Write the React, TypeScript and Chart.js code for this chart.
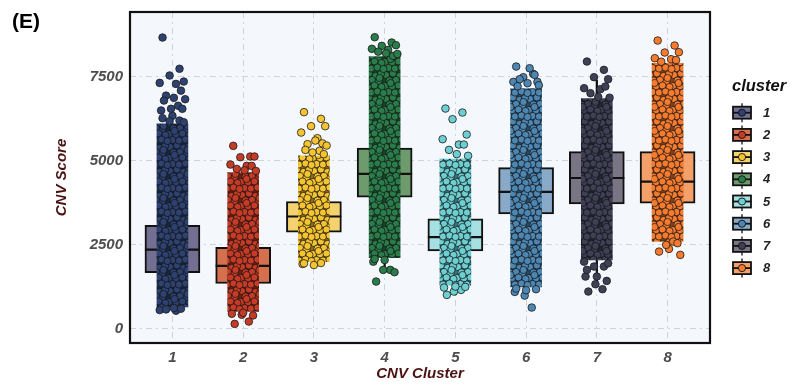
import React, { useEffect, useRef } from 'react';
import { Chart, registerables } from 'chart.js';

Chart.register(...registerables);

// ---------------- data ----------------
const CLUSTERS = ['1', '2', '3', '4', '5', '6', '7', '8'];
const Y_TICKS = [0, 2500, 5000, 7500];

const Q1 = [1670, 1350, 2880, 3920, 2320, 3420, 3720, 3740];
const MEDIAN = [2360, 1875, 3345, 4615, 2730, 4080, 4490, 4380];
const Q3 = [3085, 2430, 3790, 5380, 3275, 4800, 5275, 5275];
const WHISK_LO = [560, 420, 1950, 1750, 1010, 1250, 1400, 2400];
const WHISK_HI = [5200, 4050, 5150, 7570, 4700, 6900, 7400, 7600];

// dense part of each jittered cloud
const CORE_LO = [650, 520, 2000, 2120, 1300, 1250, 2050, 2600];
const CORE_HI = [6100, 4650, 5150, 8100, 5050, 7150, 6850, 7900];

// sparse points at the ends of each cloud
const POINTS_1 = [8670, 7740, 7540, 7360, 7320, 7290, 7090, 6940, 6875, 6835, 6795, 6640, 6550, 6550, 6500, 6340, 6270, 6200, 6180, 6150, 560, 540, 600, 580, 620];
const POINTS_2 = [5446, 5129, 5109, 5129, 4890, 4850, 4850, 4760, 4720, 4700, 149, 218, 420, 400, 450, 480];
const POINTS_3 = [6449, 6250, 6032, 6032, 5843, 5674, 5520, 5497, 5604, 5456, 5327, 5300, 5250, 5200, 1930, 1900, 1950, 1960];
const POINTS_4 = [8680, 8522, 8422, 8442, 8333, 8303, 8125, 8250, 8200, 8180, 1408, 1756, 1756, 1687, 2000, 2050, 2080];
const POINTS_5 = [6557, 6438, 6240, 5784, 5645, 5486, 5486, 5327, 5200, 5150, 1012, 1160, 1111, 1250, 1230, 1260];
const POINTS_6 = [7807, 7589, 7490, 7351, 7351, 7757, 7559, 7430, 7311, 7250, 7220, 635, 991, 1181, 1100, 1150, 1200];
const POINTS_7 = [7956, 7708, 7490, 7430, 7163, 7133, 7212, 7014, 6900, 6880, 1111, 1181, 1330, 1428, 1557, 1557, 1756, 1855, 1855, 1950, 2000];
const POINTS_8 = [8581, 8432, 8224, 8234, 8055, 8026, 8000, 7950, 2381, 2202, 2300, 2599, 2500, 2550];
const POINTS = [POINTS_1, POINTS_2, POINTS_3, POINTS_4, POINTS_5, POINTS_6, POINTS_7, POINTS_8];

// ---------------- style ----------------
const POINT_COLORS = ['#2d4270', '#c63b26', '#f6c431', '#2a7c4a', '#6dcfd2', '#4d86b2', '#3f3f56', '#f67b2f'];
const BOX_COLORS = ['#736f93', '#d4704e', '#f4d36f', '#6d9b6d', '#a6e0e2', '#88a9c7', '#7a7585', '#f5a068'];
const JITTER = [-0.14, 0.1, -0.04, 0.16, -0.18, 0.05, 0.12, -0.09, 0.02, 0.18, -0.12, 0.08, -0.02, 0.14, -0.16, 0.0];
const FONT = 'Liberation Sans, Arial, sans-serif';
const TITLE_COLOR = '#4b1212';
const TICK_COLOR = '#4d4d4d';
const TILE = 24;
const TILE_SPOTS: [number, number][] = [
  [2, 3], [9, 1.5], [15.5, 4], [21, 2], [5.5, 8.5], [12, 8], [18.5, 9.5],
  [1, 14], [8, 14.5], [14.5, 13.5], [21.5, 15], [4.5, 20], [11, 20.5], [17.5, 19.5],
  [23.5, 21], [6.5, 11], [19.5, 6],
];

function darken(hex: string, f: number): string {
  const n = parseInt(hex.slice(1), 16);
  const r = Math.round(((n >> 16) & 255) * f);
  const g = Math.round(((n >> 8) & 255) * f);
  const b = Math.round((n & 255) * f);
  return `rgb(${r},${g},${b})`;
}

function makePattern(ctx: CanvasRenderingContext2D, color: string): CanvasPattern | string {
  const c = document.createElement('canvas');
  c.width = TILE;
  c.height = TILE;
  const g = c.getContext('2d');
  if (!g) return color;
  g.fillStyle = darken(color, 0.55);
  g.fillRect(0, 0, TILE, TILE);
  g.lineWidth = 0.8;
  g.strokeStyle = 'rgba(20,20,20,0.9)';
  for (const [sx, sy] of TILE_SPOTS) {
    for (const dx of [-TILE, 0, TILE]) {
      for (const dy of [-TILE, 0, TILE]) {
        g.beginPath();
        g.arc(sx + dx, sy + dy, 3.6, 0, Math.PI * 2);
        g.fillStyle = color;
        g.fill();
        g.stroke();
      }
    }
  }
  return ctx.createPattern(c, 'repeat') || color;
}

const framePlugin = {
  id: 'frame',
  beforeDraw(chart: any) {
    const { ctx, chartArea: a } = chart;
    ctx.save();
    ctx.fillStyle = '#f4f8fd';
    ctx.fillRect(a.left, a.top, a.right - a.left, a.bottom - a.top);
    ctx.restore();
  },
  afterDatasetsDraw(chart: any) {
    const { ctx, chartArea: a } = chart;
    ctx.save();
    ctx.strokeStyle = '#111';
    ctx.lineWidth = 2.2;
    ctx.strokeRect(a.left, a.top, a.right - a.left, a.bottom - a.top);
    ctx.restore();
  },
  afterDraw(chart: any) {
    const { ctx } = chart;
    ctx.save();
    ctx.fillStyle = '#000';
    ctx.font = `bold 21px ${FONT}`;
    ctx.textBaseline = 'middle';
    ctx.textAlign = 'left';
    ctx.fillText('(E)', 12, 22);
    ctx.font = `italic bold 16.5px ${FONT}`;
    ctx.fillStyle = '#111';
    ctx.fillText('cluster', 732, 86);
    CLUSTERS.forEach((c, i) => {
      const cy = 112.7 + i * 22.2;
      const x0 = 733;
      const w = 18;
      const cx = x0 + w / 2;
      ctx.strokeStyle = '#111';
      ctx.lineWidth = 1.3;
      ctx.beginPath();
      ctx.moveTo(cx, cy - 9.5);
      ctx.lineTo(cx, cy + 9.5);
      ctx.stroke();
      ctx.fillStyle = BOX_COLORS[i];
      ctx.lineWidth = 1.8;
      ctx.fillRect(x0, cy - 6, w, 12);
      ctx.strokeRect(x0, cy - 6, w, 12);
      ctx.beginPath();
      ctx.moveTo(x0, cy);
      ctx.lineTo(x0 + w, cy);
      ctx.stroke();
      ctx.beginPath();
      ctx.arc(cx, cy, 3.6, 0, Math.PI * 2);
      ctx.fillStyle = POINT_COLORS[i];
      ctx.fill();
      ctx.lineWidth = 0.9;
      ctx.stroke();
      ctx.fillStyle = '#222';
      ctx.font = `italic bold 13px ${FONT}`;
      ctx.fillText(c, 763, cy + 0.5);
    });
    ctx.restore();
  },
};

export default function App() {
  const ref = useRef<HTMLCanvasElement | null>(null);

  useEffect(() => {
    const canvas = ref.current;
    if (!canvas) return;
    const ctx = canvas.getContext('2d');
    if (!ctx) return;

    const patterns = POINT_COLORS.map((c) => makePattern(ctx, c));

    const datasets: any[] = [];
    datasets.push({
      type: 'bar',
      label: 'box',
      data: CLUSTERS.map((_, i) => ({ x: i + 1, y: [Q1[i], Q3[i]] })),
      backgroundColor: BOX_COLORS,
      borderColor: '#111',
      borderWidth: 2,
      borderSkipped: false,
      barThickness: 55,
      grouped: false,
      order: 6,
    });
    datasets.push({
      type: 'bar',
      label: 'whiskerLo',
      data: CLUSTERS.map((_, i) => ({ x: i + 1, y: [WHISK_LO[i], Q1[i]] })),
      backgroundColor: '#111',
      borderWidth: 0,
      barThickness: 1.6,
      grouped: false,
      order: 5,
    });
    datasets.push({
      type: 'bar',
      label: 'whiskerHi',
      data: CLUSTERS.map((_, i) => ({ x: i + 1, y: [Q3[i], WHISK_HI[i]] })),
      backgroundColor: '#111',
      borderWidth: 0,
      barThickness: 1.6,
      grouped: false,
      order: 5,
    });
    datasets.push({
      type: 'scatter',
      label: 'median',
      data: CLUSTERS.map((_, i) => ({ x: i + 1, y: MEDIAN[i] })),
      pointStyle: 'line',
      pointRadius: 27.5,
      borderColor: '#111',
      borderWidth: 2.2,
      order: 4,
    });
    datasets.push({
      type: 'bar',
      label: 'core',
      data: CLUSTERS.map((_, i) => ({ x: i + 1, y: [CORE_LO[i], CORE_HI[i]] })),
      backgroundColor: patterns,
      borderWidth: 0,
      barThickness: 31,
      grouped: false,
      order: 3,
    });
    POINTS.forEach((vals, i) => {
      datasets.push({
        type: 'scatter',
        label: 'points' + CLUSTERS[i],
        data: vals.map((v, j) => ({ x: i + 1 + JITTER[j % JITTER.length], y: v })),
        backgroundColor: POINT_COLORS[i],
        borderColor: '#1a1a1a',
        borderWidth: 0.8,
        pointRadius: 3.8,
        order: 1,
      });
    });

    const chart = new Chart(ctx, {
      type: 'scatter',
      data: { datasets },
      options: {
        animation: false,
        responsive: false,
        events: [],
        layout: { autoPadding: false, padding: { left: 49, top: 12, right: 92, bottom: 0 } },
        plugins: { legend: { display: false }, tooltip: { enabled: false } },
        scales: {
          x: {
            type: 'linear',
            min: 0.4,
            max: 8.6,
            offset: false,
            afterBuildTicks: (s: any) => {
              s.ticks = CLUSTERS.map((_, i) => ({ value: i + 1 }));
            },
            afterFit: (s: any) => {
              s.height = 44;
              s.paddingLeft = 0;
              s.paddingRight = 0;
            },
            grid: { color: '#d2d2d2', lineWidth: 1, drawTicks: false, offset: false },
            border: { display: false, dash: [6, 4, 2, 4] },
            ticks: {
              padding: 6,
              color: TICK_COLOR,
              font: { family: FONT, size: 15, weight: 'bold', style: 'italic' },
              callback: (v: any) => CLUSTERS[Math.round(v) - 1] ?? '',
              maxRotation: 0,
              autoSkip: false,
            },
            title: {
              display: true,
              text: 'CNV Cluster',
              color: TITLE_COLOR,
              font: { family: FONT, size: 15, weight: 'bold', style: 'italic' },
            },
          },
          y: {
            type: 'linear',
            min: -420,
            max: 9430,
            afterBuildTicks: (s: any) => {
              s.ticks = Y_TICKS.map((v) => ({ value: v }));
            },
            afterFit: (s: any) => {
              s.width = 81;
              s.paddingTop = 0;
              s.paddingBottom = 0;
            },
            grid: { color: '#d2d2d2', lineWidth: 1, drawTicks: false },
            border: { display: false, dash: [6, 4, 2, 4] },
            ticks: {
              padding: 7,
              color: TICK_COLOR,
              font: { family: FONT, size: 15, weight: 'bold', style: 'italic' },
              callback: (v: any) => String(v),
            },
            title: {
              display: true,
              text: 'CNV Score',
              color: TITLE_COLOR,
              font: { family: FONT, size: 15, weight: 'bold', style: 'italic' },
            },
          },
        },
      } as any,
      plugins: [framePlugin],
    });
    return () => chart.destroy();
  }, []);

  return (
    <div style={{ position: 'fixed', left: 0, top: 0, width: 802, height: 387, background: '#fff' }}>
      <canvas ref={ref} width={802} height={387} style={{ display: 'block' }} />
    </div>
  );
}
